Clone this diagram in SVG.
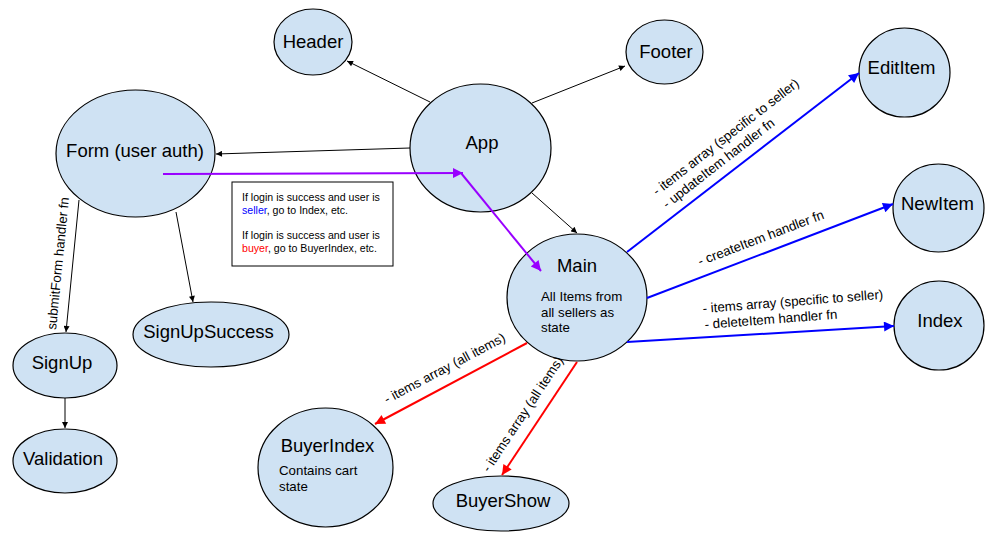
<svg xmlns="http://www.w3.org/2000/svg" width="999" height="545" viewBox="0 0 999 545">
<defs>
<style>
.node ellipse{fill:#cfe2f3;stroke:#000;stroke-width:1.2}
.t{font-family:"Liberation Sans",Arial,sans-serif;font-size:18.5px;fill:#000;text-anchor:middle}
.b{font-family:"Liberation Sans",Arial,sans-serif;font-size:13.3px;fill:#000}
.l{font-family:"Liberation Sans",Arial,sans-serif;font-size:13.3px;fill:#000}
.n{font-family:"Liberation Sans",Arial,sans-serif;font-size:10.6px;fill:#000}
.k{stroke:#000;stroke-width:1;fill:none}
.bl{stroke:#0000ff;stroke-width:2;fill:none}
.rd{stroke:#ff0000;stroke-width:2;fill:none}
.pu{stroke:#9900ff;stroke-width:2;fill:none}
</style>
<marker id="ak" viewBox="0 0 10 10" refX="10" refY="5" markerWidth="7" markerHeight="6" markerUnits="userSpaceOnUse" orient="auto"><path d="M0,0 L10,5 L0,10 z" fill="#000"/></marker>
<marker id="ab" viewBox="0 0 10 10" refX="10" refY="5" markerWidth="13" markerHeight="10" markerUnits="userSpaceOnUse" orient="auto"><path d="M0,0 L10,5 L0,10 z" fill="#0000ff"/></marker>
<marker id="ar" viewBox="0 0 10 10" refX="10" refY="5" markerWidth="13" markerHeight="10" markerUnits="userSpaceOnUse" orient="auto"><path d="M0,0 L10,5 L0,10 z" fill="#ff0000"/></marker>
<marker id="ap" viewBox="0 0 10 10" refX="10" refY="5" markerWidth="13" markerHeight="10" markerUnits="userSpaceOnUse" orient="auto"><path d="M0,0 L10,5 L0,10 z" fill="#9900ff"/></marker>
</defs>
<rect width="999" height="545" fill="#fff"/>

<g id="nodes">
<g id="header" class="node"><ellipse cx="313" cy="42" rx="39" ry="33"/><text class="t" x="313" y="48">Header</text></g>
<g id="footer" class="node"><ellipse cx="664.5" cy="52" rx="38.5" ry="32"/><text class="t" x="666" y="58">Footer</text></g>
<g id="form" class="node"><ellipse cx="135.5" cy="153.5" rx="79.5" ry="63.5"/><text class="t" x="135" y="157">Form (user auth)</text></g>
<g id="app" class="node"><ellipse cx="480.5" cy="148" rx="70.5" ry="64"/><text class="t" x="482" y="149">App</text></g>
<g id="edititem" class="node"><ellipse cx="904.5" cy="72.5" rx="45.5" ry="44.5"/><text class="t" x="901.5" y="74">EditItem</text></g>
<g id="newitem" class="node"><ellipse cx="938.5" cy="208" rx="45.5" ry="44"/><text class="t" x="937.5" y="210">NewItem</text></g>
<g id="index" class="node"><ellipse cx="939" cy="325.5" rx="45" ry="44.5"/><text class="t" x="940" y="327">Index</text></g>
<g id="main" class="node"><ellipse cx="577" cy="297.5" rx="70" ry="63.5"/><text class="t" x="577" y="272">Main</text>
<text class="b" x="541" y="301">All Items from</text><text class="b" x="541" y="316.5">all sellers as</text><text class="b" x="541" y="332">state</text></g>
<g id="buyerindex" class="node"><ellipse cx="325.5" cy="467.5" rx="67.5" ry="59.5"/><text class="t" x="327.5" y="452">BuyerIndex</text>
<text class="b" x="279" y="475">Contains cart</text><text class="b" x="279" y="491">state</text></g>
<g id="buyershow" class="node"><ellipse cx="501" cy="503.5" rx="68" ry="27.5"/><text class="t" x="503" y="507">BuyerShow</text></g>
<g id="signupsuccess" class="node"><ellipse cx="211" cy="334.5" rx="78" ry="32.5"/><text class="t" x="208.5" y="338">SignUpSuccess</text></g>
<g id="signup" class="node"><ellipse cx="65" cy="365.5" rx="52" ry="32.5"/><text class="t" x="62" y="369">SignUp</text></g>
<g id="validation" class="node"><ellipse cx="65" cy="461" rx="52" ry="32"/><text class="t" x="63" y="465">Validation</text></g>
<g id="note"><rect x="232" y="182" width="161" height="84" fill="#fff" stroke="#000" stroke-width="1"/>
<text class="n" x="242" y="201">If login is success and user is</text>
<text class="n" x="242" y="213.5"><tspan fill="#0000ff">seller</tspan>, go to Index, etc.</text>
<text class="n" x="242" y="239">If login is success and user is</text>
<text class="n" x="242" y="252"><tspan fill="#ff0000">buyer</tspan>, go to BuyerIndex, etc.</text></g>
</g>

<g id="connectors">
<line class="k" x1="430" y1="102" x2="347" y2="61" marker-end="url(#ak)"/>
<line class="k" x1="532" y1="103" x2="625" y2="66" marker-end="url(#ak)"/>
<line class="k" x1="410" y1="148" x2="216" y2="154" marker-end="url(#ak)"/>
<line class="k" x1="532" y1="193" x2="577" y2="233" marker-end="url(#ak)"/>
<line class="k" x1="79" y1="200" x2="66" y2="332" marker-end="url(#ak)"/>
<line class="k" x1="176" y1="212" x2="193" y2="302" marker-end="url(#ak)"/>
<line class="k" x1="65" y1="398" x2="65" y2="428" marker-end="url(#ak)"/>
<line class="bl" x1="627" y1="252" x2="859" y2="73" marker-end="url(#ab)"/>
<line class="bl" x1="647" y1="298" x2="893" y2="204" marker-end="url(#ab)"/>
<line class="bl" x1="627" y1="342" x2="894" y2="326" marker-end="url(#ab)"/>
<line class="rd" x1="527" y1="343" x2="375" y2="424" marker-end="url(#ar)"/>
<line class="rd" x1="577" y1="362" x2="502" y2="475" marker-end="url(#ar)"/>
<line class="pu" x1="163" y1="174" x2="463" y2="173" marker-end="url(#ap)"/>
<line class="pu" x1="461" y1="173" x2="541" y2="271" marker-end="url(#ap)"/>
<text class="l" x="56" y="330" transform="rotate(-84.4 56 330)">submitForm handler fn</text>
<text class="l" x="657" y="196" transform="rotate(-37.8 657 196)">- items array (specific to seller)</text>
<text class="l" x="667" y="209" transform="rotate(-37.8 667 209)">- updateItem handler fn</text>
<text class="l" x="700" y="266" transform="rotate(-20.9 700 266)">- createItem handler fn</text>
<text class="l" x="703" y="313" transform="rotate(-4.5 703 313)">- items array (specific to seller)</text>
<text class="l" x="705" y="329" transform="rotate(-4.5 705 329)">- deleteItem handler fn</text>
<text class="l" x="387" y="404" transform="rotate(-28 387 404)">- items array (all items)</text>
<text class="l" x="489" y="473" transform="rotate(-56.4 489 473)">- items array (all items)</text>
</g>
</svg>
